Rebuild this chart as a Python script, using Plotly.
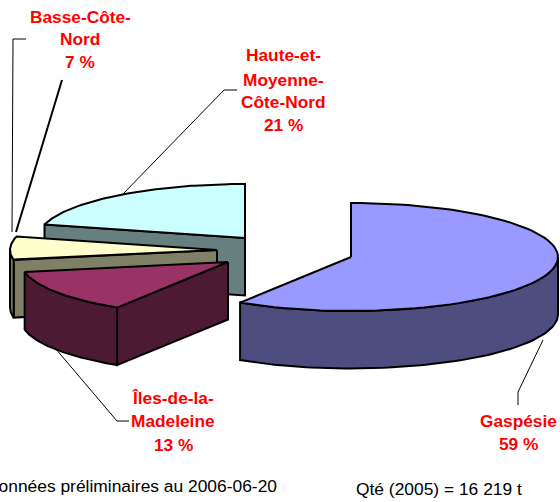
import math
import plotly.graph_objects as go

# Data
categories = ["Gaspésie", "Îles-de-la-Madeleine", "Basse-Côte-Nord", "Haute-et-Moyenne-Côte-Nord"]
shares = [59, 13, 7, 21]
label_lines = [["Gaspésie", "59 %"],
               ["Îles-de-la-", "Madeleine", "13 %"],
               ["Basse-Côte-", "Nord", "7 %"],
               ["Haute-et-", "Moyenne-", "Côte-Nord", "21 %"]]
note_left = "Données préliminaires au 2006-06-20"
note_right = "Qté (2005) = 16 219 t"

# Style / layout
top_colors = ["#9999FF", "#993366", "#FFFFCC", "#CCFFFF"]
side_colors = ["#4D4D80", "#4D1A33", "#808066", "#668080"]
centers = [(351, 257), (228, 262), (217, 250), (245, 238)]
RX, RY, DEPTH = 207, 54, 57.5
label_pos = [(518, [421, 444]), (173, [398, 421, 445]), (80, [17, 39, 62]), (283, [55, 80, 102, 125])]
leaders = [
    ([518, 518, 543], [405, 392, 340], 1),
    ([129, 117, 55], [421, 421, 348], 1),
    ([26, 13, 12], [39, 39, 232], 1),
    ([62, 16], [80, 232], 2),
    ([237, 224, 122], [90, 90, 195], 1),
]

def pt(c, deg, dz=0):
    a = math.radians(deg)
    return c[0] + RX * math.sin(a), c[1] - RY * math.cos(a) + dz

def arc(c, a0, a1, dz=0, n=80):
    return [pt(c, a0 + (a1 - a0) * i / n, dz) for i in range(n + 1)]

fig = go.Figure()

def poly(points, color):
    xs = [p[0] for p in points] + [points[0][0]]
    ys = [p[1] for p in points] + [points[0][1]]
    fig.add_trace(go.Scatter(x=xs, y=ys, mode="lines", fill="toself", fillcolor=color,
                             line=dict(color="black", width=2), hoverinfo="skip", showlegend=False))

# sector angle spans from shares (clockwise from north)
spans = []
acc = 0
for s in shares:
    a0 = acc * 3.6
    acc += s
    spans.append((a0, acc * 3.6))

# draw back to front: Haute, Basse, Îles, Gaspésie
for i in [3, 2, 1, 0]:
    c = centers[i]
    a0, a1 = spans[i]
    # radial wall facing the viewer
    if 180 < a0 < 360:
        e = pt(c, a0)
        poly([c, e, (e[0], e[1] + DEPTH), (c[0], c[1] + DEPTH)], side_colors[i])
    # outer wall (front half of the ellipse only)
    lo, hi = max(a0, 90), min(a1, 270)
    if lo < hi:
        poly(arc(c, lo, hi) + arc(c, lo, hi, DEPTH)[::-1], side_colors[i])
    poly([c] + arc(c, a0, a1), top_colors[i])

for xs, ys, w in leaders:
    fig.add_trace(go.Scatter(x=xs, y=ys, mode="lines", line=dict(color="black", width=w),
                             hoverinfo="skip", showlegend=False))

font = dict(family="Liberation Sans, Arial, sans-serif")
annotations = []
for lines, (x, ys) in zip(label_lines, label_pos):
    for line, y in zip(lines, ys):
        annotations.append(dict(x=x, y=y, xref="x", yref="y", text=f"<b>{line}</b>", showarrow=False,
                                xanchor="center", yanchor="middle",
                                font=dict(size=17.3, color="#FF0000", **font)))
annotations.append(dict(x=279, y=486, xref="x", yref="y", text=note_left, showarrow=False,
                        xanchor="right", yanchor="middle", font=dict(size=17.4, color="black", **font)))
annotations.append(dict(x=354, y=489, xref="x", yref="y", text=note_right, showarrow=False,
                        xanchor="left", yanchor="middle", font=dict(size=17.4, color="black", **font)))

fig.update_layout(width=560, height=502, margin=dict(l=0, r=0, t=0, b=0),
                  plot_bgcolor="white", paper_bgcolor="white", showlegend=False,
                  xaxis=dict(range=[0, 560], visible=False, fixedrange=True),
                  yaxis=dict(range=[502, 0], visible=False, fixedrange=True),
                  annotations=annotations)
fig.write_html("out.html", config={"displayModeBar": False},
               post_script="document.body.style.margin='0';document.body.style.overflow='hidden';")
